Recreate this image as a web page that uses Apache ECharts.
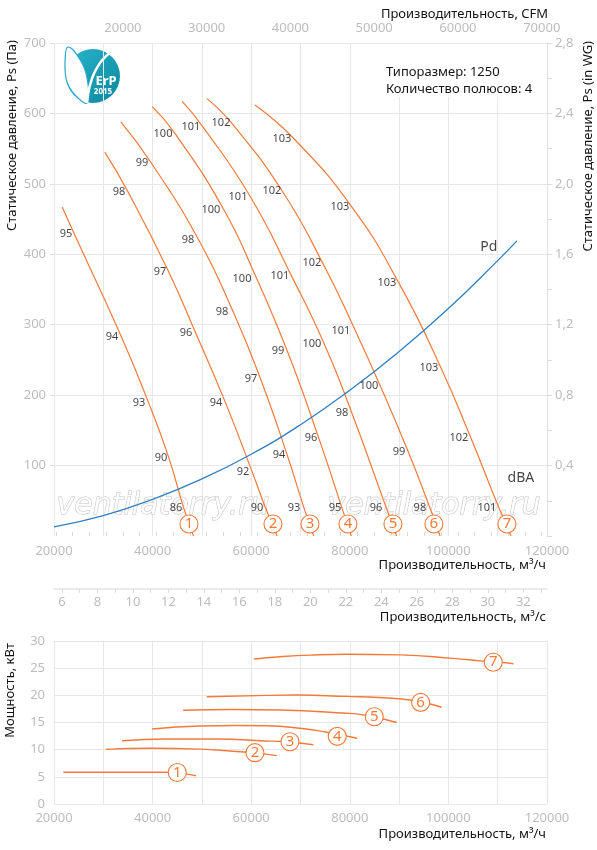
<!DOCTYPE html>
<html>
<head>
<meta charset="utf-8">
<title>Типоразмер 1250</title>
<script src="https://cdn.jsdelivr.net/npm/echarts@6/dist/echarts.min.js"></script>
<style>
  html, body { margin: 0; padding: 0; background: #fff; }
  #chart { width: 597px; height: 850px; }
</style>
</head>
<body>
<div id="chart"></div>
<script>
// напорные характеристики: [Q м3/ч, Ps Па]
const curve1 = [[21650, 467], [24100, 429], [33600, 284], [39200, 189], [43300, 111], [46300, 40], [48300, 0]];
const curve2 = [[30300, 545], [34900, 490], [43200, 376], [48700, 289], [54800, 189], [60200, 91], [62900, 40], [65250, 0]];
const curve3 = [[33550, 588], [39700, 530], [49300, 421], [56300, 319], [61900, 223], [67300, 115], [70700, 40], [72700, 0]];
const curve4 = [[39900, 610], [44600, 571], [54400, 464], [60700, 372], [67300, 263], [73900, 135], [78400, 40], [80300, 0]];
const curve5 = [[46000, 617], [50200, 581], [59800, 482], [68200, 369], [74800, 273], [80400, 175], [87400, 40], [89500, 0]];
const curve6 = [[51030, 621], [56300, 584], [66640, 486], [74760, 384], [80640, 299], [86320, 211], [92000, 117], [96250, 40], [98300, 0]];
const curve7 = [[60760, 612], [68670, 564], [80430, 467], [89970, 359], [98480, 239], [104570, 139], [110250, 40], [112700, 0]];

// динамическое давление Pd
const pdCurve = [[20000, 13], [30000, 29], [40000, 52], [50000, 81], [60000, 116], [70000, 158], [80000, 207], [90000, 262], [100000, 323], [110000, 391], [113900, 419]];

// уровни шума dBA вдоль кривых: [Q, Ps, dBA]
const dba1 = [[22430, 429, 95], [31760, 283, 94], [37240, 189, 93], [41700, 111, 90], [44740, 40, 86]];
const dba2 = [[33180, 488, 98], [41500, 375, 97], [46770, 288, 96], [52850, 189, 94], [58330, 91, 92], [61170, 40, 90]];
const dba3 = [[37850, 530, 99], [47180, 420, 98], [54070, 318, 98], [59950, 223, 97], [65630, 115, 94], [68670, 40, 93]];
const dba4 = [[42110, 571, 100], [51840, 463, 100], [58130, 365, 100], [65430, 263, 99], [72120, 139, 96], [76990, 40, 95]];
const dba5 = [[47780, 581, 101], [57320, 481, 101], [65830, 369, 101], [72320, 273, 100], [78410, 175, 98], [85300, 40, 96]];
const dba6 = [[53870, 586, 102], [64210, 490, 102], [72320, 388, 102], [78200, 291, 101], [83880, 213, 100], [89970, 119, 99], [94220, 40, 98]];
const dba7 = [[66240, 564, 103], [78000, 467, 103], [87530, 359, 103], [96050, 239, 103], [102130, 139, 102], [107810, 40, 101]];

// номера кривых
const markersPs = [[47380, 17, 1], [64410, 17, 2], [71920, 17, 3], [79620, 17, 4], [88750, 17, 5], [97060, 17, 6], [111870, 17, 7]];

// мощность: [Q м3/ч, кВт]
const power1 = [[21900, 5.85], [35000, 5.85], [42000, 5.85], [45000, 5.8], [47000, 5.5], [48800, 5.2]];
const power2 = [[30500, 10.05], [39500, 10.25], [49600, 10.1], [56300, 9.7], [60700, 9.4], [65200, 8.9]];
const power3 = [[33800, 11.65], [42900, 11.95], [53000, 11.95], [61800, 11.65], [67800, 11.4], [72600, 10.9]];
const power4 = [[39900, 13.8], [49600, 14.35], [57000, 14.45], [63000, 14.4], [69900, 13.95], [75300, 13.2], [81500, 12.1]];
const power5 = [[46200, 17.25], [56300, 17.4], [65800, 17.3], [79400, 16.7], [82700, 16.4], [86800, 15.65], [89500, 15.0]];
const power6 = [[51000, 19.75], [63200, 20.0], [69300, 20.05], [79400, 19.8], [86000, 19.6], [92200, 19.15], [96300, 18.4], [98600, 17.8]];
const power7 = [[60600, 26.7], [65800, 27.1], [72000, 27.4], [79400, 27.55], [90200, 27.45], [101000, 26.8], [107000, 26.3], [111100, 26.05], [113200, 25.8]];
const markersPower = [[45000, 5.8, 1], [60760, 9.45, 2], [67860, 11.45, 3], [77450, 12.45, 4], [84970, 16.05, 5], [94370, 18.7, 6], [109100, 26.1, 7]];

// подписи вспомогательных осей
const cfmLabels = [20000, 30000, 40000, 50000, 60000, 70000];
const cfmTicks = [12000, 14000, 16000, 18000, 20000, 22000, 24000, 26000, 28000, 30000, 32000, 34000, 36000, 38000, 40000,
  42000, 44000, 46000, 48000, 50000, 52000, 54000, 56000, 58000, 60000, 62000, 64000, 66000, 68000, 70000];
const m3sLabels = [6, 8, 10, 12, 14, 16, 18, 20, 22, 24, 26, 28, 30, 32];
const m3sTicks = [6, 7, 8, 9, 10, 11, 12, 13, 14, 15, 16, 17, 18, 19, 20, 21, 22, 23, 24, 25, 26, 27, 28, 29, 30, 31, 32, 33];

const Q_MIN = 20000;
const Q_MAX = 120000;
const M3H_PER_CFM = 1.699;

const ORANGE = '#f47a3a';
const BLUE = '#2f7fc3';
const LABEL_GRAY = '#bdbdbd';
const GRID_GRAY = '#e7e7e7';
const FONT = 'Noto Sans';

const chart = echarts.init(document.getElementById('chart'), null, { renderer: 'canvas' });

const tickLabel = { color: LABEL_GRAY, fontSize: 13, fontFamily: FONT };
const splitLine = { show: true, lineStyle: { color: GRID_GRAY, width: 1 } };
const plain = v => String(v);

const curveLine = (data, xi, yi, width) => ({
  type: 'line', xAxisIndex: xi, yAxisIndex: yi, data: data,
  smooth: 0.5, symbol: 'none', silent: true,
  lineStyle: { color: ORANGE, width: width }, z: 2
});

const markers = (data, xi, yi) => ({
  type: 'scatter', xAxisIndex: xi, yAxisIndex: yi, data: data, silent: true,
  symbol: 'circle', symbolSize: 18,
  itemStyle: { color: '#fff', borderColor: ORANGE, borderWidth: 1.1, opacity: 1 },
  label: { show: true, position: 'inside', formatter: p => String(p.value[2]), color: ORANGE, fontSize: 15, fontFamily: FONT },
  labelLayout: { hideOverlap: false },
  z: 5
});

const series = [];
[curve1, curve2, curve3, curve4, curve5, curve6, curve7].forEach(d => series.push(curveLine(d, 0, 0, 1.2)));
series.push({
  type: 'line', xAxisIndex: 0, yAxisIndex: 0, data: pdCurve, smooth: 0.5, symbol: 'none', silent: true,
  lineStyle: { color: BLUE, width: 1.3 }, z: 2
});
series.push({
  type: 'scatter', xAxisIndex: 0, yAxisIndex: 0, silent: true,
  data: [].concat(dba1, dba2, dba3, dba4, dba5, dba6, dba7),
  symbolSize: 1, itemStyle: { color: 'rgba(0,0,0,0)' },
  label: { show: true, position: 'inside', formatter: p => String(p.value[2]), color: '#141414', fontSize: 11, fontFamily: FONT },
  z: 3
});
series.push({
  type: 'scatter', xAxisIndex: 0, yAxisIndex: 0, silent: true,
  data: [[108200, 410, 'Pd'], [114700, 82, 'dBA']],
  symbolSize: 1, itemStyle: { color: 'rgba(0,0,0,0)' },
  label: { show: true, position: 'inside', formatter: p => p.value[2], color: '#141414', fontSize: 14, fontFamily: FONT },
  z: 3
});
series.push(markers(markersPs, 0, 0));
[power1, power2, power3, power4, power5, power6, power7].forEach(d => series.push(curveLine(d, 3, 3, 1.4)));
series.push(markers(markersPower, 3, 3));

const title = (text, x, y, rotate) => ({
  type: 'text', x: x, y: y, rotation: rotate ? Math.PI / 2 : 0, z: 3,
  style: { text: text, fill: '#141414', font: '13px "Noto Sans"', align: 'right', verticalAlign: 'middle' }
});

// водяной знак под кривыми
const watermark = x => ({
  type: 'text', x: x, y: 506, z: 1, silent: true,
  style: {
    text: 'ventilatorry.ru', font: 'oblique 30px "DejaVu Sans"', align: 'center', verticalAlign: 'middle',
    fill: 'rgba(255,255,255,0.85)', stroke: '#c4c4c4', lineWidth: 1
  }
});

const option = {
  animation: false,
  backgroundColor: '#fff',
  textStyle: { fontFamily: FONT },
  grid: [
    { left: 54, top: 43, width: 493, height: 493, outerBoundsMode: 'none' },
    { left: 54, top: 588, width: 493, height: 1, outerBoundsMode: 'none' },
    { left: 54, top: 641, width: 493, height: 163, outerBoundsMode: 'none' }
  ],
  xAxis: [
    {
      gridIndex: 0, type: 'value', min: Q_MIN, max: Q_MAX, interval: 10000,
      axisLine: { show: false }, axisTick: { show: false }, splitLine: splitLine,
      axisLabel: Object.assign({ margin: 9, formatter: v => (v % 20000 === 0 ? String(v) : '') }, tickLabel)
    },
    {
      gridIndex: 0, type: 'value', position: 'top', min: Q_MIN / M3H_PER_CFM, max: Q_MAX / M3H_PER_CFM,
      axisLine: { show: false }, splitLine: { show: false },
      axisTick: { show: true, customValues: cfmTicks, length: 4, lineStyle: { color: '#d9d9d9' } },
      axisLabel: Object.assign({ margin: 8, customValues: cfmLabels, formatter: plain }, tickLabel)
    },
    {
      gridIndex: 1, type: 'value', min: Q_MIN / 3600, max: Q_MAX / 3600,
      axisLine: { show: true, lineStyle: { color: '#e3e3e3', width: 1.5 } }, splitLine: { show: false },
      axisTick: { show: true, customValues: m3sTicks, length: 4, lineStyle: { color: '#dcdcdc' } },
      axisLabel: Object.assign({ margin: 7, customValues: m3sLabels, formatter: plain }, tickLabel)
    },
    {
      gridIndex: 2, type: 'value', min: Q_MIN, max: Q_MAX, interval: 10000,
      axisLine: { show: false }, axisTick: { show: false }, splitLine: splitLine,
      axisLabel: Object.assign({ margin: 8, formatter: v => (v % 20000 === 0 ? String(v) : '') }, tickLabel)
    }
  ],
  yAxis: [
    {
      gridIndex: 0, type: 'value', min: 0, max: 700, interval: 50,
      axisLine: { show: false }, splitLine: splitLine,
      axisTick: { show: true, customValues: [100, 200, 300, 400, 500, 600, 700], length: 4, lineStyle: { color: '#dcdcdc' } },
      axisLabel: Object.assign({ margin: 8, formatter: v => (v > 0 && v % 100 === 0 ? String(v) : '') }, tickLabel)
    },
    {
      gridIndex: 0, type: 'value', position: 'right', min: 0, max: 2.8, interval: 0.4,
      axisLine: { show: true, lineStyle: { color: '#e0e0e0' } }, splitLine: { show: false },
      axisTick: { show: true, length: 5, lineStyle: { color: '#dcdcdc' } },
      minorTick: { show: true, splitNumber: 2, length: 5, lineStyle: { color: '#dcdcdc' } },
      axisLabel: Object.assign({ margin: 8, formatter: v => (v === 0 ? '' : v.toFixed(1).replace('.', ',')) }, tickLabel)
    },
    { gridIndex: 1, type: 'value', show: false },
    {
      gridIndex: 2, type: 'value', min: 0, max: 30, interval: 5,
      axisLine: { show: false }, axisTick: { show: false }, splitLine: splitLine,
      axisLabel: Object.assign({ margin: 9 }, tickLabel)
    }
  ],
  graphic: [
    // плашка с параметрами
    { type: 'rect', z: 1, shape: { x: 366, y: 44, width: 180, height: 53 }, style: { fill: '#fff' } },
    { type: 'text', x: 386, y: 72, z: 3, style: { text: 'Типоразмер: 1250', fill: '#141414', font: '13px "Noto Sans"', verticalAlign: 'middle' } },
    { type: 'text', x: 386, y: 89, z: 3, style: { text: 'Количество полюсов: 4', fill: '#141414', font: '13px "Noto Sans"', verticalAlign: 'middle' } },
    // логотип ErP 2015
    {
      type: 'group', z: 3, children: [
        {
          type: 'circle', shape: { cx: 93, cy: 76, r: 27 },
          style: { fill: new echarts.graphic.LinearGradient(0, 0, 1, 1, [{ offset: 0, color: '#2ab5cb' }, { offset: 1, color: '#0b879f' }]) }
        },
        {
          type: 'polygon', shape: { points: [[68, 47], [65, 64], [67, 82], [75, 95], [87, 103], [88, 84], [82, 63]], smooth: 0.4 },
          style: { fill: '#fff', stroke: '#27a7cf', lineWidth: 1.2 }
        },
        {
          type: 'bezierCurve', shape: { x1: 87, y1: 103, cpx1: 89, cpy1: 80, cpx2: 97, cpy2: 62, x2: 111, y2: 52 },
          style: { fill: null, stroke: '#fff', lineWidth: 2.5 }
        },
        { type: 'text', x: 106, y: 81, style: { text: 'ErP', fill: '#fff', font: 'bold 13px "Noto Sans"', align: 'center', verticalAlign: 'middle' } },
        { type: 'text', x: 103, y: 92, style: { text: '2015', fill: '#fff', font: 'bold 8px "Noto Sans"', align: 'center', verticalAlign: 'middle' } }
      ]
    },
    // названия осей
    title('Производительность, CFM', 548, 14, false),
    title('Производительность, м³/ч', 546, 565, false),
    title('Производительность, м³/с', 546, 617, false),
    title('Производительность, м³/ч', 546, 834, false),
    title('Статическое давление, Ps (Па)', 12, 40, true),
    title('Статическое давление, Ps (in WG)', 588, 41, true),
    title('Мощность, кВт', 10, 643, true),
    watermark(163),
    watermark(434)
  ],
  series: series
};

chart.setOption(option);
</script>
</body>
</html>
